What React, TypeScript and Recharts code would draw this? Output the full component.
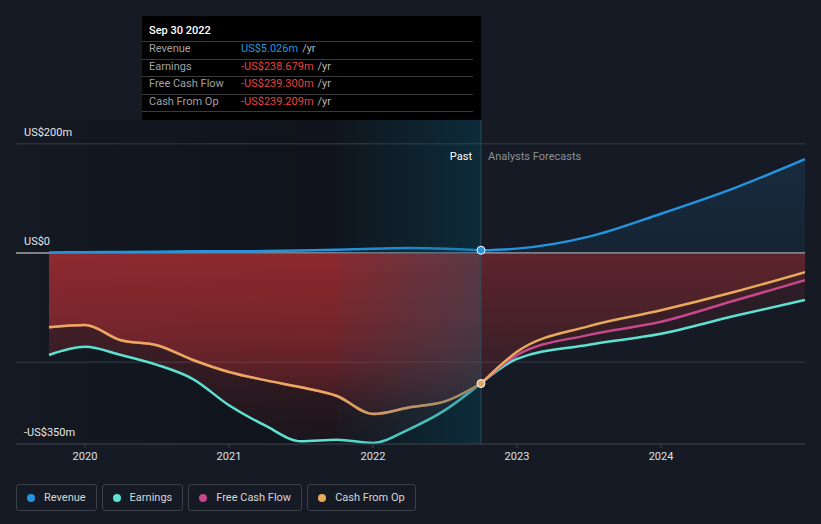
import React from 'react';
import {
  ComposedChart,
  Area,
  XAxis,
  YAxis,
  ReferenceLine,
  ReferenceArea,
  ReferenceDot,
} from 'recharts';

// ---- data (US$ millions, x = fractional year) ----
const pastYears = [2019.75, 2020.0, 2020.25, 2020.5, 2020.75, 2021.0, 2021.25, 2021.5, 2021.75, 2022.0, 2022.25, 2022.5, 2022.75];
const pastRevenue = [1, 1.5, 2, 2.5, 3, 3, 3.5, 4.5, 6, 8, 9, 8, 5.026];
const pastEarnings = [-187, -172, -187, -205, -231, -279, -316, -345, -342, -348, -323, -288, -238.679];
const pastFreeCashFlow = [-136, -132, -160, -169, -196, -218, -233, -246, -262, -295, -283, -272, -239.3];
const pastCashFromOp = [-136, -132, -160, -169, -196, -218, -233, -246, -262, -295, -283, -272, -239.209];

const forecastYears = [2022.75, 2023.0, 2023.5, 2024.0, 2024.5, 2025.0];
const forecastRevenue = [5.026, 8, 30, 72, 118, 172];
const forecastEarnings = [-238.679, -194, -168, -148, -116, -86];
const forecastFreeCashFlow = [-239.3, -187, -150, -126, -88, -50];
const forecastCashFromOp = [-239.209, -181, -134, -105, -72, -35];

const yearTicks = [2020, 2021, 2022, 2023, 2024];
const gridValues = [200, -200];
const labeledValueTicks = [200, 0, -350];

const xDomain = [2019.521, 2025.0];
const yDomain = [-350, 243.7];
const pastEnd = 2022.75;
const highlightStart = 2021.75;

const seriesNames = ['Revenue', 'Earnings', 'Free Cash Flow', 'Cash From Op'];
const seriesColors = ['#2394df', '#5ce1d3', '#c7478b', '#e9a95a'];

const tooltipTitle = 'Sep 30 2022';
const tooltipValues = ['US$5.026m', '-US$238.679m', '-US$239.300m', '-US$239.209m'];

// ---- build table ----
const allYears = Array.from(new Set([...pastYears, ...forecastYears])).sort((a, b) => a - b);
const data = allYears.map((x) => {
  const p = pastYears.indexOf(x);
  const f = forecastYears.indexOf(x);
  return {
    x,
    revP: p >= 0 ? pastRevenue[p] : null,
    earnP: p >= 0 ? pastEarnings[p] : null,
    fcfP: p >= 0 ? pastFreeCashFlow[p] : null,
    cfoP: p >= 0 ? pastCashFromOp[p] : null,
    revF: f >= 0 ? forecastRevenue[f] : null,
    earnF: f >= 0 ? forecastEarnings[f] : null,
    fcfF: f >= 0 ? forecastFreeCashFlow[f] : null,
    cfoF: f >= 0 ? forecastCashFromOp[f] : null,
  };
});

const FONT = 'Roboto, "Noto Sans", sans-serif';

const yLabel = (v: number) => (v === 0 ? 'US$0' : v < 0 ? `-US$${-v}m` : `US$${v}m`);

function ValueLabel(props: any) {
  const vb = props.viewBox || {};
  const x = vb.x ?? 0;
  const y = vb.y ?? 0;
  return (
    <text x={x + 8} y={y - 8} fill="#e6e6e6" fontSize={11} fontFamily={FONT}>
      {props.text}
    </text>
  );
}

function PastLabel(props: any) {
  const vb = props.viewBox || {};
  const x = vb.x ?? 0;
  const y = vb.y ?? 0;
  return (
    <g>
      <text x={x - 9} y={y + 40} textAnchor="end" fill="#ffffff" fontSize={11} fontFamily={FONT}>
        Past
      </text>
      <text x={x + 7} y={y + 40} textAnchor="start" fill="#8b9098" fontSize={11} fontFamily={FONT}>
        Analysts Forecasts
      </text>
    </g>
  );
}

export default function App() {
  const sw = 2.5;
  return (
    <div style={{ position: 'absolute', left: 0, top: 0, width: 821, height: 524, background: '#151a24', fontFamily: FONT }}>
      <ComposedChart
        width={821}
        height={524}
        data={data}
        margin={{ top: 120, right: 16, bottom: 50, left: 16 }}
      >
        <defs>
          <linearGradient id="redPast" x1="0" y1="0" x2="0" y2="1">
            <stop offset="0" stopColor="#b83034" stopOpacity={0.36} />
            <stop offset="0.5" stopColor="#b83034" stopOpacity={0.25} />
            <stop offset="1" stopColor="#b83034" stopOpacity={0.05} />
          </linearGradient>
          <linearGradient id="redFcst" x1="0" y1="0" x2="0" y2="1">
            <stop offset="0" stopColor="#b83034" stopOpacity={0.18} />
            <stop offset="1" stopColor="#b83034" stopOpacity={0.06} />
          </linearGradient>
          <linearGradient id="blueFill" x1="0" y1="0" x2="0" y2="1">
            <stop offset="0" stopColor="#2394df" stopOpacity={0.14} />
            <stop offset="1" stopColor="#2394df" stopOpacity={0.08} />
          </linearGradient>
          <linearGradient id="darkPast" x1="0" y1="0" x2="1" y2="0">
            <stop offset="0" stopColor="#000000" stopOpacity={0.05} />
            <stop offset="0.6" stopColor="#000000" stopOpacity={0.25} />
            <stop offset="1" stopColor="#000000" stopOpacity={0.3} />
          </linearGradient>
          <linearGradient id="highlight" x1="0" y1="0" x2="1" y2="0">
            <stop offset="0" stopColor="rgb(10,85,110)" stopOpacity={0.04} />
            <stop offset="1" stopColor="rgb(10,85,110)" stopOpacity={0.38} />
          </linearGradient>
        </defs>

        <ReferenceArea
          x1={xDomain[0]}
          x2={pastEnd}
          y1={yDomain[0]}
          y2={yDomain[1]}
          fill="url(#darkPast)"
          fillOpacity={1}
          stroke="none"
          ifOverflow="hidden"
          zIndex={-150}
        />

        {gridValues.map((v) => (
          <ReferenceLine key={v} y={v} stroke="#383d46" strokeWidth={1} zIndex={-100} />
        ))}

        <XAxis
          dataKey="x"
          type="number"
          domain={xDomain}
          ticks={yearTicks}
          allowDataOverflow
          tickFormatter={(v: number) => String(v)}
          tick={{ fill: '#e0e0e0', fontSize: 11, fontFamily: FONT }}
          axisLine={{ stroke: '#40454e' }}
          tickLine={{ stroke: '#40454e' }}
          tickSize={4}
          tickMargin={4}
          height={30}
        />
        <YAxis type="number" domain={yDomain} allowDataOverflow hide />

        <ReferenceLine y={0} stroke="#e8e8e8" strokeWidth={1.2} zIndex={50} />

        <Area type="monotone" dataKey="earnP" stroke={seriesColors[1]} strokeWidth={sw} fill="url(#redPast)" fillOpacity={1} dot={false} activeDot={false} isAnimationActive={false} />
        <Area type="monotone" dataKey="fcfP" stroke={seriesColors[2]} strokeWidth={sw} fill="url(#redPast)" fillOpacity={1} dot={false} activeDot={false} isAnimationActive={false} />
        <Area type="monotone" dataKey="cfoP" stroke={seriesColors[3]} strokeWidth={sw} fill="url(#redPast)" fillOpacity={1} dot={false} activeDot={false} isAnimationActive={false} />
        <Area type="monotone" dataKey="earnF" stroke={seriesColors[1]} strokeWidth={sw} fill="url(#redFcst)" fillOpacity={1} dot={false} activeDot={false} isAnimationActive={false} />
        <Area type="monotone" dataKey="fcfF" stroke={seriesColors[2]} strokeWidth={sw} fill="url(#redFcst)" fillOpacity={1} dot={false} activeDot={false} isAnimationActive={false} />
        <Area type="monotone" dataKey="cfoF" stroke={seriesColors[3]} strokeWidth={sw} fill="url(#redFcst)" fillOpacity={1} dot={false} activeDot={false} isAnimationActive={false} />
        <Area type="monotone" dataKey="revP" stroke={seriesColors[0]} strokeWidth={sw} fill="url(#blueFill)" fillOpacity={1} dot={false} activeDot={false} isAnimationActive={false} />
        <Area type="monotone" dataKey="revF" stroke={seriesColors[0]} strokeWidth={sw} fill="url(#blueFill)" fillOpacity={1} dot={false} activeDot={false} isAnimationActive={false} />

        <ReferenceArea
          x1={highlightStart}
          x2={pastEnd}
          y1={yDomain[0]}
          y2={yDomain[1]}
          fill="url(#highlight)"
          fillOpacity={1}
          stroke="none"
          ifOverflow="hidden"
          zIndex={450}
        />

        <ReferenceLine x={pastEnd} stroke="#2c4a5c" strokeWidth={1} zIndex={460} label={<PastLabel />} />

        {labeledValueTicks.map((v) => (
          <ReferenceLine key={`lbl${v}`} y={v} stroke="none" zIndex={800} label={<ValueLabel text={yLabel(v)} />} />
        ))}

        <ReferenceDot x={pastEnd} y={pastRevenue[pastRevenue.length - 1]} r={4} fill={seriesColors[0]} stroke="#ffffff" strokeWidth={1} zIndex={700} />
        <ReferenceDot x={pastEnd} y={pastCashFromOp[pastCashFromOp.length - 1]} r={4} fill="#dcaa66" stroke="#ffffff" strokeWidth={1} zIndex={700} />
      </ComposedChart>

      {/* static tooltip box */}
      <div style={{ position: 'absolute', left: 142, top: 16, width: 339, height: 104, background: '#000000', fontSize: 11 }}>
        <div style={{ position: 'absolute', left: 7, top: 8, lineHeight: '14px', color: '#ffffff', fontWeight: 500 }}>{tooltipTitle}</div>
        {[25, 42.5, 60, 77.5, 95].map((t, i) => (
          <div key={i} style={{ position: 'absolute', left: 0, top: t, width: 331, height: 1, background: '#3a3a3a' }} />
        ))}
        {seriesNames.map((name, i) => (
          <div key={name} style={{ position: 'absolute', left: 7, top: 26 + i * 17.5, lineHeight: '14px', width: 320, display: 'flex' }}>
            <span style={{ width: 92, color: '#a0a0a0' }}>{name}</span>
            <span style={{ color: i === 0 ? '#2394df' : '#e8423f' }}>{tooltipValues[i]}</span>
            <span style={{ color: '#b4b4b4', marginLeft: 4 }}>/yr</span>
          </div>
        ))}
      </div>

      {/* legend */}
      <div style={{ position: 'absolute', left: 16, top: 484, display: 'flex', gap: 5 }}>
        {seriesNames.map((name, i) => (
          <div
            key={name}
            style={{
              boxSizing: 'border-box',
              height: 27,
              padding: '0 10px',
              display: 'flex',
              alignItems: 'center',
              border: '1px solid #3b4049',
              borderRadius: 3,
              fontSize: 11,
              color: '#d6d6d6',
            }}
          >
            <span style={{ width: 8, height: 8, borderRadius: 4, background: seriesColors[i], marginRight: 9, display: 'inline-block' }} />
            <span>{name}</span>
          </div>
        ))}
      </div>
    </div>
  );
}
